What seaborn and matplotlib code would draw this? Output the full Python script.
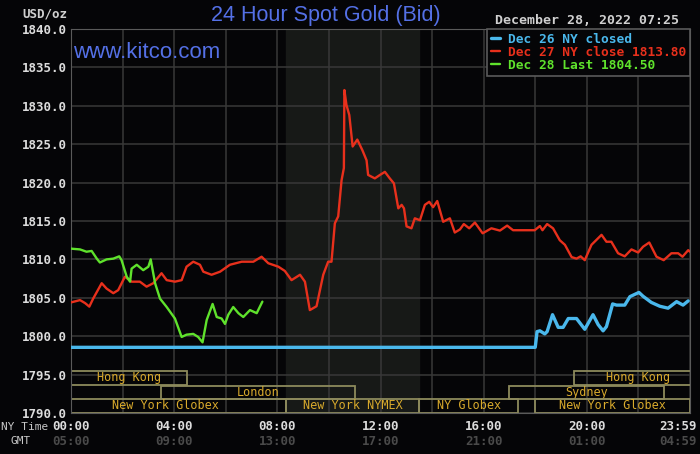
import numpy as np
import pandas as pd
import seaborn as sns
import matplotlib.pyplot as plt
from matplotlib.patches import Rectangle
from matplotlib.transforms import ScaledTranslation, blended_transform_factory

# --- data (hours since 00:00 NY time, USD/oz) ---
dec26_hours = [0, 18.0, 18.07, 18.18, 18.37, 18.46, 18.67, 18.89, 19.08, 19.28, 19.6, 19.92,
               20.24, 20.44, 20.63, 20.76, 21.0, 21.15, 21.47, 21.67, 22.02, 22.18, 22.5,
               22.83, 23.15, 23.48, 23.73, 23.93]
dec26_price = [1798.55, 1798.55, 1800.6, 1800.7, 1800.3, 1800.6, 1802.8, 1801.15, 1801.15,
               1802.3, 1802.3, 1800.9, 1802.8, 1801.5, 1800.7, 1801.25, 1804.2, 1804.05,
               1804.05, 1805.15, 1805.7, 1805.2, 1804.4, 1803.9, 1803.65, 1804.5, 1804.05, 1804.6]

dec27_hours = [0, 0.35, 0.55, 0.71, 0.86, 1.19, 1.38, 1.64, 1.83, 2.09, 2.35, 2.67, 2.93,
               3.19, 3.51, 3.71, 4.03, 4.29, 4.48, 4.74, 5.0, 5.13, 5.45, 5.78, 6.16, 6.62,
               7.07, 7.39, 7.65, 8.04, 8.29, 8.55, 8.88, 9.07, 9.26, 9.52, 9.78, 9.97, 10.1,
               10.23, 10.36, 10.49, 10.58, 10.6, 10.68, 10.79, 10.92, 11.1, 11.3, 11.46,
               11.52, 11.78, 11.98, 12.17, 12.36, 12.52, 12.69, 12.82, 12.91, 13.01, 13.2,
               13.33, 13.53, 13.72, 13.89, 14.04, 14.2, 14.43, 14.69, 14.88, 15.08, 15.23,
               15.44, 15.66, 15.96, 16.3, 16.63, 16.91, 17.14, 17.98, 18.18, 18.28, 18.46,
               18.69, 18.95, 19.15, 19.41, 19.6, 19.76, 19.92, 20.18, 20.57, 20.76, 20.95,
               21.21, 21.47, 21.73, 21.99, 22.18, 22.42, 22.7, 22.98, 23.28, 23.54, 23.71,
               23.93, 24.0]
dec27_price = [1804.4, 1804.7, 1804.3, 1803.85, 1804.9, 1806.9, 1806.2, 1805.6, 1806.0,
               1807.75, 1807.1, 1807.1, 1806.45, 1806.9, 1808.2, 1807.3, 1807.1, 1807.3,
               1809.05, 1809.7, 1809.3, 1808.4, 1808.0, 1808.4, 1809.3, 1809.7, 1809.7,
               1810.35, 1809.5, 1809.05, 1808.5, 1807.3, 1808.0, 1807.1, 1803.4, 1803.9,
               1808.0, 1809.7, 1809.7, 1814.7, 1815.6, 1820.3, 1821.9, 1832.05, 1830.1,
               1828.8, 1824.7, 1825.6, 1824.2, 1822.9, 1821.0, 1820.55, 1821.0, 1821.4,
               1820.55, 1819.9, 1816.65, 1817.1, 1816.65, 1814.3, 1814.05, 1815.35, 1815.1,
               1817.1, 1817.5, 1816.8, 1817.6, 1814.9, 1815.35, 1813.5, 1813.9, 1814.6,
               1814.05, 1814.8, 1813.4, 1814.05, 1813.75, 1814.4, 1813.8, 1813.8, 1814.35,
               1813.8, 1814.6, 1814.05, 1812.5, 1811.9, 1810.3, 1810.1, 1810.4, 1809.9,
               1811.9, 1813.2, 1812.3, 1812.3, 1810.8, 1810.4, 1811.3, 1810.9, 1811.65,
               1812.2, 1810.35, 1809.9, 1810.8, 1810.8, 1810.35, 1811.2, 1811.0]

dec28_hours = [0, 0.35, 0.6, 0.8, 1.0, 1.12, 1.38, 1.64, 1.87, 1.96, 2.16, 2.29, 2.35, 2.55,
               2.8, 3.0, 3.09, 3.26, 3.45, 3.71, 4.03, 4.29, 4.48, 4.74, 4.93, 5.1, 5.26,
               5.49, 5.65, 5.84, 5.97, 6.1, 6.29, 6.49, 6.68, 6.94, 7.2, 7.42]
dec28_price = [1811.4, 1811.3, 1811.0, 1811.1, 1810.1, 1809.6, 1810.0, 1810.1, 1810.4,
               1809.9, 1807.75, 1807.1, 1808.8, 1809.3, 1808.6, 1809.05, 1810.0, 1806.9,
               1804.9, 1803.8, 1802.3, 1799.9, 1800.2, 1800.3, 1799.9, 1799.2, 1802.1,
               1804.2, 1802.5, 1802.3, 1801.6, 1802.8, 1803.8, 1803.0, 1802.5, 1803.4,
               1803.0, 1804.5]

series_labels = ["Dec 26 NY closed", "Dec 27 NY close 1813.80", "Dec 28 Last 1804.50"]

# trading sessions: name, start hour, end hour, row (0 = top)
session_names = ["Hong Kong", "Hong Kong", "London", "Sydney",
                 "New York Globex", "New York NYMEX", "NY Globex", "New York Globex"]
session_start = [0, 19.5, 3.5, 17.0, -1.0, 8.33, 13.5, 18.0]
session_end = [4.5, 24.5, 11.0, 23.0, 8.33, 13.5, 17.33, 24.0]
session_row = [0, 0, 1, 1, 2, 2, 2, 2]

nymex_span = (8.33, 13.5)

ny_ticks = [0, 4, 8, 12, 16, 20, 24]
ny_labels = ["00:00", "04:00", "08:00", "12:00", "16:00", "20:00", "23:59"]
gmt_labels = ["05:00", "09:00", "13:00", "17:00", "21:00", "01:00", "04:59"]

# --- style ---
BG = "#050507"
GRID = "#383838"
sns.set_style("dark", rc={"axes.facecolor": BG, "figure.facecolor": BG})
plt.rcParams["font.family"] = ["DejaVu Sans Mono"]
mono = {"family": "DejaVu Sans Mono", "weight": "bold", "size": 9}

fig = plt.figure(figsize=(7, 4.54), dpi=100)
ax = fig.add_axes([71 / 700, 1 - 413 / 454, 619 / 700, 384 / 454])

ax.axvspan(*nymex_span, color="#171917", zorder=0)

colors = ["#4ab8ec", "#e8301c", "#5fe22c"]
frames = [pd.DataFrame({"hour": h, "price": p}) for h, p in
          [(dec26_hours, dec26_price), (dec27_hours, dec27_price), (dec28_hours, dec28_price)]]
widths = [2.4, 1.7, 1.7]
for df, c, lab, lw in zip(frames, colors, series_labels, widths):
    sns.lineplot(data=df, x="hour", y="price", color=c, lw=lw, label=lab, ax=ax,
                 estimator=None, sort=False, zorder=3)

# session boxes
row_bottoms = [1793.65, 1791.75, 1790.0]
row_h = 1.85
for name, s, e, r in zip(session_names, session_start, session_end, session_row):
    y0 = row_bottoms[r]
    ax.add_patch(Rectangle((s, y0 + 0.05), e - s, row_h - 0.1, fill=False,
                           edgecolor="#8d8a5c", lw=1.3, zorder=2))
    ax.text((s + e) / 2, y0 + row_h / 2, name, color="#d9aa2c", ha="center",
            va="center", fontsize=8.5, family="DejaVu Sans Mono", zorder=2)

ax.set_xlim(0, 24)
ax.set_ylim(1790, 1840)
ax.set_xticks(np.arange(0, 25, 2))
ax.set_xticklabels([ny_labels[ny_ticks.index(t)] if t in ny_ticks else "" for t in range(0, 25, 2)])
ax.set_yticks(np.arange(1790, 1841, 5))
ax.set_yticklabels([f"{v:.1f}" for v in np.arange(1790, 1841, 5)])
ax.grid(True, color=GRID, lw=1.1)
ax.tick_params(axis="x", length=0, pad=5)
ax.tick_params(axis="y", length=0, pad=3)
for lbl in ax.get_xticklabels() + ax.get_yticklabels():
    lbl.set_fontproperties(mono)
    lbl.set_color("#dcdcdc")
last = ax.get_xticklabels()[-1]
last.set_ha("right")
last.set_transform(last.get_transform() + ScaledTranslation(7 / 100, 0, fig.dpi_scale_trans))
for sp in ax.spines.values():
    sp.set_color("#5a5a5a")
ax.set_xlabel("")
ax.set_ylabel("")

# GMT row under the NY time labels
trans = blended_transform_factory(ax.transData, ax.transAxes)
for t, g in zip(ny_ticks, gmt_labels):
    ha = "right" if t == 24 else "center"
    x_off = ScaledTranslation(7 / 100 if t == 24 else 0, 0, fig.dpi_scale_trans)
    ax.text(t, -0.073, g, transform=trans + x_off, ha=ha, va="center", color="#4a4a4a",
            fontproperties=mono)

leg = ax.legend(loc="upper right", borderaxespad=0, frameon=True, fancybox=False,
                facecolor=BG, edgecolor="#5a5a5a", framealpha=1, labelcolor="linecolor",
                handlelength=0.7, handletextpad=0.6, labelspacing=0.0, borderpad=0.3,
                prop={"family": "DejaVu Sans Mono", "weight": "bold", "size": 9.3})
leg.get_frame().set_linewidth(1.2)
leg.set_zorder(5)

ax.text(0.003, 0.938, "www.kitco.com", transform=ax.transAxes, color="#5470e6",
        fontsize=16, family="Liberation Sans", va="center", ha="left")

fig.text(326 / 700, 1 - 15 / 454, "24 Hour Spot Gold (Bid)", color="#5470e6", fontsize=15.5,
         family="Liberation Sans", ha="center", va="center")
fig.text(67 / 700, 1 - 14 / 454, "USD/oz", color="#d0d0d0", ha="right", va="center",
         fontproperties=mono)
fig.text(679 / 700, 1 - 20 / 454, "December 28, 2022 07:25", color="#d0d0d0", ha="right",
         va="center", fontproperties={"family": "DejaVu Sans Mono", "weight": "bold", "size": 9.5})
fig.text(1 / 700, 1 - 427 / 454, "NY Time", color="#c8c8c8", ha="left", va="center",
         family="DejaVu Sans Mono", fontsize=8)
fig.text(21 / 700, 1 - 441 / 454, "GMT", color="#c8c8c8", ha="center", va="center",
         family="DejaVu Sans Mono", fontsize=8)

fig.savefig("out.png", dpi=100, facecolor=BG)
